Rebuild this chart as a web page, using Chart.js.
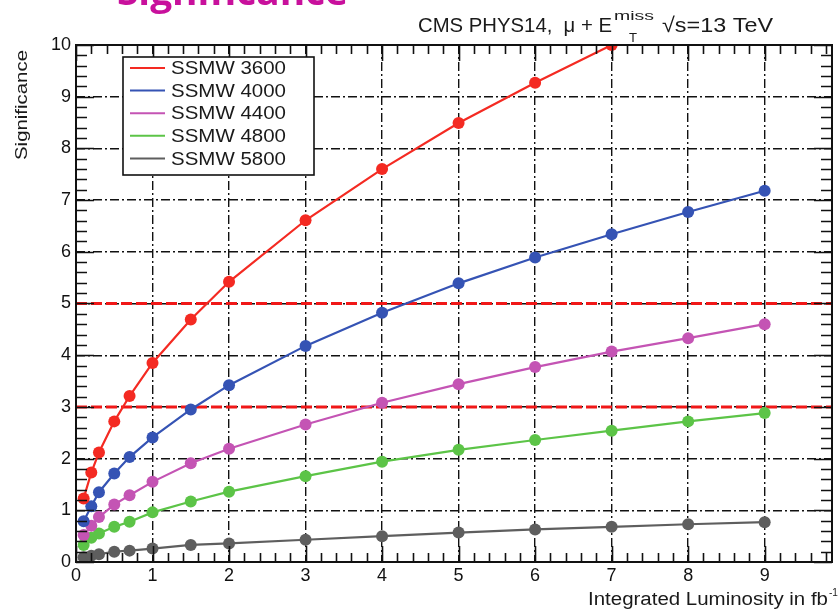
<!DOCTYPE html>
<html>
<head>
<meta charset="utf-8">
<script src="https://cdn.jsdelivr.net/npm/chart.js@4"></script>
<style>
  html, body { margin: 0; padding: 0; background: #fff; }
  canvas { display: block; }
</style>
</head>
<body>
<canvas id="c" width="838" height="610"></canvas>
<script>
// Integrated luminosity points (fb^-1)
const lumi = [0.1, 0.2, 0.3, 0.5, 0.7, 1, 1.5, 2, 3, 4, 5, 6, 7, 8, 9];

// Expected significance per W' mass hypothesis
const ssmw3600 = [1.23, 1.73, 2.12, 2.72, 3.21, 3.85, 4.69, 5.42, 6.61, 7.60, 8.49, 9.27, 10.0];
const ssmw4000 = [0.79, 1.08, 1.35, 1.71, 2.03, 2.41, 2.95, 3.42, 4.18, 4.82, 5.39, 5.89, 6.34, 6.77, 7.18];
const ssmw4400 = [0.52, 0.70, 0.87, 1.11, 1.29, 1.55, 1.91, 2.19, 2.66, 3.08, 3.44, 3.77, 4.07, 4.33, 4.60];
const ssmw4800 = [0.33, 0.47, 0.55, 0.68, 0.78, 0.96, 1.17, 1.36, 1.66, 1.94, 2.17, 2.36, 2.54, 2.72, 2.88];
const ssmw5800 = [0.09, 0.12, 0.15, 0.20, 0.22, 0.26, 0.33, 0.36, 0.43, 0.50, 0.57, 0.63, 0.68, 0.73, 0.77];

const seriesLabels = ['SSMW 3600', 'SSMW 4000', 'SSMW 4400', 'SSMW 4800', 'SSMW 5800'];
const seriesValues = [ssmw3600, ssmw4000, ssmw4400, ssmw4800, ssmw5800];
const seriesColors = ['#f42a22', '#3553b4', '#c454b4', '#5cc447', '#5e5e5e'];

// Evidence / discovery thresholds
const thresholds = [3, 5];

const xTicks = [0, 1, 2, 3, 4, 5, 6, 7, 8, 9];
const yTicks = [0, 1, 2, 3, 4, 5, 6, 7, 8, 9, 10];

const FONT = '"Liberation Sans", Arial, sans-serif';

const datasets = seriesValues.map((vals, i) => ({
  label: seriesLabels[i],
  data: vals.map((v, k) => ({ x: lumi[k], y: v })),
  borderColor: seriesColors[i],
  backgroundColor: seriesColors[i],
  borderWidth: 2.2,
  pointRadius: 6,
  pointBorderWidth: 0,
  pointHoverRadius: 6,
  tension: 0
}));

// Draw text stretched/squeezed horizontally to span a given width
function fitText(ctx, text, x, y, width, font) {
  ctx.save();
  ctx.font = font;
  ctx.textAlign = 'left';
  const w = ctx.measureText(text).width;
  ctx.translate(x, y);
  ctx.scale(width / w, 1);
  ctx.fillText(text, 0, 0);
  ctx.restore();
}

// Frame, inward tick marks, threshold lines, legend box and text annotations
const decorations = {
  id: 'decorations',
  beforeDatasetsDraw(chart) {
    const { ctx, chartArea: a, scales: { y } } = chart;
    ctx.save();
    ctx.strokeStyle = '#f01818';
    ctx.lineWidth = 3;
    ctx.setLineDash([11, 4]);
    thresholds.forEach(t => {
      const py = y.getPixelForValue(t);
      ctx.beginPath();
      ctx.moveTo(a.left, py);
      ctx.lineTo(a.right, py);
      ctx.stroke();
    });
    ctx.restore();
  },
  afterDraw(chart) {
    const { ctx, chartArea: a, scales: { x, y } } = chart;
    ctx.save();
    ctx.strokeStyle = '#111';
    ctx.lineWidth = 1.6;
    ctx.setLineDash([]);
    // x ticks (bottom & top)
    for (let v = 0; v <= x.max + 1e-9; v += 0.2) {
      const px = Math.round(x.getPixelForValue(v)) + 0.5;
      const major = Math.abs(v - Math.round(v)) < 1e-6;
      const len = major ? 16 : 9;
      ctx.beginPath();
      ctx.moveTo(px, a.bottom); ctx.lineTo(px, a.bottom - len);
      ctx.moveTo(px, a.top); ctx.lineTo(px, a.top + len);
      ctx.stroke();
    }
    // y ticks (left & right)
    for (let v = 0; v <= 10 + 1e-9; v += 0.2) {
      const py = Math.round(y.getPixelForValue(v)) + 0.5;
      const major = Math.abs(v - Math.round(v)) < 1e-6;
      const len = major ? 18 : 11;
      ctx.beginPath();
      ctx.moveTo(a.left, py); ctx.lineTo(a.left + len, py);
      ctx.moveTo(a.right, py); ctx.lineTo(a.right - len, py);
      ctx.stroke();
    }
    // frame
    ctx.lineWidth = 2;
    ctx.strokeRect(a.left, a.top, a.right - a.left, a.bottom - a.top);

    // legend
    const lx = 123, ly = 57, lw = 191, lh = 118;
    ctx.fillStyle = '#fff';
    ctx.fillRect(lx, ly, lw, lh);
    ctx.lineWidth = 1.6;
    ctx.strokeStyle = '#111';
    ctx.strokeRect(lx, ly, lw, lh);
    ctx.textBaseline = 'middle';
    seriesLabels.forEach((lab, i) => {
      const cy = ly + 11 + i * 22.6;
      ctx.strokeStyle = seriesColors[i];
      ctx.lineWidth = 2;
      ctx.beginPath();
      ctx.moveTo(lx + 7, cy); ctx.lineTo(lx + 42, cy);
      ctx.stroke();
      ctx.fillStyle = '#1a1a1a';
      fitText(ctx, lab, lx + 48, cy + 1, 115, '19px ' + FONT);
    });

    // header annotation
    ctx.fillStyle = '#1a1a1a';
    ctx.textBaseline = 'alphabetic';
    const by = 32;
    fitText(ctx, 'CMS PHYS14,  \u03bc + E', 418, by, 194, '21px ' + FONT);
    fitText(ctx, 'miss', 614, by - 12, 40, '12px ' + FONT);
    fitText(ctx, 'T', 629, by + 10, 8, '12px ' + FONT);
    fitText(ctx, '\u221As=13 TeV', 662, by, 111, '21px ' + FONT);

    // large heading at the top edge
    ctx.fillStyle = '#c8109c';
    fitText(ctx, 'Significance', 117, 5, 231, 'bold 38px "Open Sans", "Noto Sans", sans-serif');

    // axis titles
    ctx.fillStyle = '#1a1a1a';
    fitText(ctx, 'Integrated Luminosity in fb', 588, 605, 240, '18px ' + FONT);
    fitText(ctx, '-1', 829, 596, 9, '11px ' + FONT);
    ctx.translate(27, 160);
    ctx.rotate(-Math.PI / 2);
    fitText(ctx, 'Significance', 0, 0, 110, '17px ' + FONT);
    ctx.restore();
  }
};

new Chart(document.getElementById('c'), {
  type: 'line',
  data: { datasets },
  options: {
    responsive: false,
    animation: false,
    layout: { padding: { left: 0, right: 4, top: 45, bottom: 0 } },
    plugins: { legend: { display: false }, tooltip: { enabled: false } },
    scales: {
      x: {
        type: 'linear',
        min: 0,
        max: 9.88,
        afterBuildTicks: s => { s.ticks = xTicks.map(v => ({ value: v })); },
        afterFit: s => { s.height = 48; },
        grid: { color: '#111', lineWidth: 1.4, drawTicks: false },
        border: { display: false, dash: [9, 3, 2, 3] },
        ticks: { padding: 3, color: '#111', font: { family: FONT, size: 18 }, maxRotation: 0 }
      },
      y: {
        type: 'linear',
        min: 0,
        max: 10,
        afterBuildTicks: s => { s.ticks = yTicks.map(v => ({ value: v })); },
        afterFit: s => { s.width = 76; },
        grid: { color: '#111', lineWidth: 1.4, drawTicks: false },
        border: { display: false, dash: [9, 3, 2, 3] },
        ticks: { padding: 5, color: '#111', font: { family: FONT, size: 18 } }
      }
    }
  },
  plugins: [decorations]
});
</script>
</body>
</html>
